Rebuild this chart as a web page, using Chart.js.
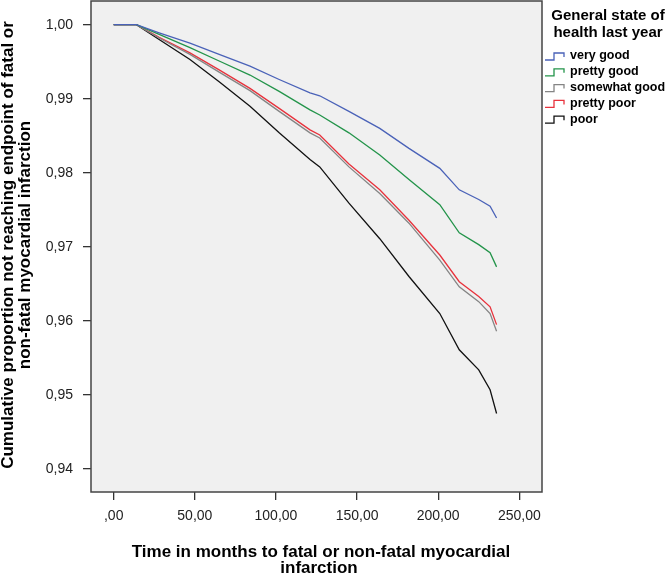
<!DOCTYPE html>
<html>
<head>
<meta charset="utf-8">
<script src="https://cdn.jsdelivr.net/npm/chart.js@4.4.1/dist/chart.umd.min.js"></script>
<style>
  html, body { margin: 0; padding: 0; background: #ffffff; }
  #wrap { position: relative; width: 666px; height: 575px; }
</style>
</head>
<body>
<div id="wrap"><canvas id="kmChart"></canvas></div>
<script>
const months = [0, 14, 28, 47, 65, 84, 102, 121, 127, 145, 164, 182, 201, 213, 225, 232, 236];

// Cumulative proportion per health group
const veryGood     = [1.0, 1.0, 0.9989, 0.9975, 0.9960, 0.9944, 0.9926, 0.9908, 0.9904, 0.9883, 0.9860, 0.9833, 0.9806, 0.9777, 0.9764, 0.9755, 0.9739];
const prettyGood   = [1.0, 1.0, 0.9987, 0.9969, 0.9951, 0.9932, 0.9910, 0.9885, 0.9878, 0.9854, 0.9824, 0.9791, 0.9757, 0.9719, 0.9703, 0.9692, 0.9673];
const somewhatGood = [1.0, 1.0, 0.9982, 0.9960, 0.9936, 0.9911, 0.9883, 0.9854, 0.9847, 0.9808, 0.9772, 0.9732, 0.9682, 0.9646, 0.9626, 0.9610, 0.9586];
const prettyPoor   = [1.0, 1.0, 0.9983, 0.9962, 0.9939, 0.9914, 0.9887, 0.9858, 0.9851, 0.9812, 0.9777, 0.9736, 0.9689, 0.9653, 0.9633, 0.9619, 0.9595];
const poor         = [1.0, 1.0, 0.9980, 0.9953, 0.9923, 0.9890, 0.9854, 0.9818, 0.9808, 0.9759, 0.9711, 0.9660, 0.9610, 0.9561, 0.9534, 0.9507, 0.9475];

const groupNames = ['very good', 'pretty good', 'somewhat good', 'pretty poor', 'poor'];
const groupColors = ['#4a62b8', '#23944a', '#858585', '#e8323c', '#111111'];

const xTicks = [0, 50, 100, 150, 200, 250];
const yTicks = [0.94, 0.95, 0.96, 0.97, 0.98, 0.99, 1.00];

const legendTitle = ['General state of', 'health last year'];
const yTitle = ['Cumulative proportion not reaching endpoint of fatal or', 'non-fatal myocardial infarction'];
const xTitle = ['Time in months to fatal or non-fatal myocardial', 'infarction'];

const FONT = '"Liberation Sans", Arial, sans-serif';

function toPoints(values) {
    return months.map((m, i) => ({ x: m, y: values[i] }));
}

const seriesValues = [veryGood, prettyGood, somewhatGood, prettyPoor, poor];

// Plot background, frame, axis titles and the legend
const decorations = {
    id: 'decorations',
    beforeDatasetsDraw(chart) {
        const { ctx, chartArea: a } = chart;
        ctx.save();
        ctx.fillStyle = '#f0f0f0';
        ctx.fillRect(a.left, a.top, a.right - a.left, a.bottom - a.top);
        ctx.restore();
    },
    afterDraw(chart) {
        const { ctx, chartArea: a } = chart;
        ctx.save();
        ctx.strokeStyle = '#444444';
        ctx.lineWidth = 1.5;
        ctx.strokeRect(a.left, a.top, a.right - a.left, a.bottom - a.top);

        ctx.fillStyle = '#000000';
        ctx.textAlign = 'center';
        ctx.textBaseline = 'middle';

        // y axis title
        ctx.font = 'bold 17px ' + FONT;
        ctx.save();
        ctx.translate(8, 245);
        ctx.rotate(-Math.PI / 2);
        ctx.fillText(yTitle[0], 0, 0);
        ctx.fillText(yTitle[1], 0, 17);
        ctx.restore();

        // x axis title
        ctx.fillText(xTitle[0], 321, 552);
        ctx.fillText(xTitle[1], 319, 568);

        // legend
        ctx.font = 'bold 15px ' + FONT;
        ctx.fillText(legendTitle[0], 608, 16);
        ctx.fillText(legendTitle[1], 608, 33);

        ctx.font = 'bold 12.5px ' + FONT;
        ctx.textAlign = 'left';
        groupNames.forEach((name, i) => {
            const y = 56 + i * 15.8;
            ctx.strokeStyle = groupColors[i];
            ctx.lineWidth = 1.3;
            ctx.beginPath();
            ctx.moveTo(545, y + 4);
            ctx.lineTo(554, y + 4);
            ctx.lineTo(554, y - 3);
            ctx.lineTo(564, y - 3);
            ctx.lineTo(564, y + 1);
            ctx.stroke();
            ctx.fillStyle = '#000000';
            ctx.fillText(name, 570, y);
        });
        ctx.restore();
    }
};

function noPad(scale) {
    scale.paddingTop = 0;
    scale.paddingBottom = 0;
    scale.paddingLeft = 0;
    scale.paddingRight = 0;
}

const ctx = document.getElementById('kmChart').getContext('2d');
const kmChart = new Chart(ctx, {
    type: 'line',
    data: {
        datasets: groupNames.map((name, i) => ({
            label: name,
            data: toPoints(seriesValues[i]),
            borderColor: groupColors[i],
            borderWidth: 1.3,
            pointRadius: 0,
            tension: 0,
            fill: false
        }))
    },
    options: {
        responsive: true,
        maintainAspectRatio: false,
        animation: false,
        layout: {
            padding: { top: 1, right: 124, bottom: 0, left: 0 }
        },
        scales: {
            x: {
                type: 'linear',
                min: -14,
                max: 264,
                afterBuildTicks: (scale) => { scale.ticks = xTicks.map(v => ({ value: v })); },
                afterFit: (scale) => { scale.height = 83; noPad(scale); },
                grid: { drawOnChartArea: false, drawTicks: true, tickLength: 8, color: '#333333', lineWidth: 1.3 },
                border: { display: false },
                ticks: {
                    padding: 8,
                    color: '#222222',
                    font: { family: FONT, size: 14 },
                    maxRotation: 0,
                    callback: (v) => v === 0 ? ',00' : v.toFixed(2).replace('.', ',')
                }
            },
            y: {
                type: 'linear',
                min: 0.9369,
                max: 1.0032,
                afterBuildTicks: (scale) => { scale.ticks = yTicks.map(v => ({ value: v })); },
                afterFit: (scale) => { scale.width = 91; noPad(scale); },
                grid: { drawOnChartArea: false, drawTicks: true, tickLength: 8, color: '#333333', lineWidth: 1.3 },
                border: { display: false },
                ticks: {
                    padding: 10,
                    color: '#222222',
                    font: { family: FONT, size: 14 },
                    callback: (v) => v.toFixed(2).replace('.', ',')
                }
            }
        },
        plugins: {
            legend: { display: false },
            tooltip: { enabled: false }
        }
    },
    plugins: [decorations]
});
</script>
</body>
</html>
